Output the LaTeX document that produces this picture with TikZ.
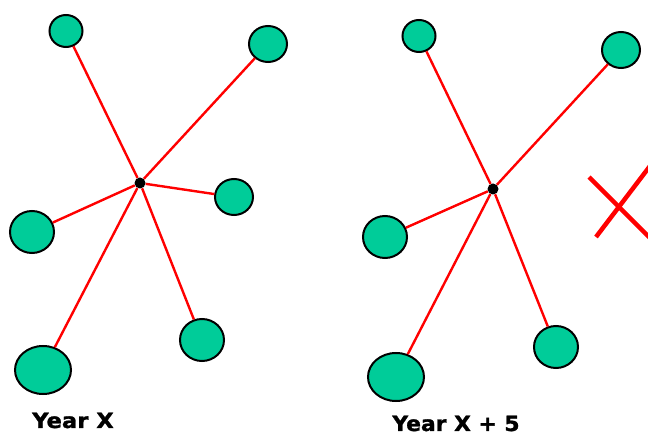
\documentclass[tikz,border=0pt]{standalone}
\usepackage{fontspec}
\usetikzlibrary{shapes.geometric}
\newfontfamily\yearfont{DejaVu Sans Bold}[FakeBold=1.2]
\definecolor{memgreen}{HTML}{00CC99}

\begin{document}
\begin{tikzpicture}
[x=1pt, y=-1pt, font=\yearfont\fontsize{21}{24}\selectfont]
\tikzstyle{member}=[ellipse, draw, line width=2pt, fill=memgreen, inner sep=0mm]
\tikzstyle{hub}=[circle, fill=black, inner sep=0mm, minimum size=11pt]
\tikzstyle{tie}=[draw=red, line width=2.4pt]
\tikzstyle{year}=[anchor=base, inner sep=0mm]
\useasboundingbox (0,0) rectangle (648,435);

% year X
\node[member, minimum width=33pt, minimum height=32pt] (A1) at (66,31)  {};
\node[member, minimum width=38pt, minimum height=36pt] (B1) at (268,44) {};
\node[member, minimum width=38pt, minimum height=36pt] (C1) at (234,197) {};
\node[member, minimum width=44pt, minimum height=42pt] (D1) at (32,232) {};
\node[member, minimum width=44pt, minimum height=42pt] (E1) at (202,340) {};
\node[member, minimum width=56pt, minimum height=48pt] (F1) at (43,370) {};
\node[hub] (H1) at (140,183) {};
\node[year, xscale=1.08] (Y1) at (73,428) {Year X};

\draw[tie] (H1) -- (A1);
\draw[tie] (H1) -- (B1);
\draw[tie] (H1) -- (C1);
\draw[tie] (H1) -- (D1);
\draw[tie] (H1) -- (E1);
\draw[tie] (H1) -- (F1);

% year X + 5
\node[member, minimum width=33pt, minimum height=32pt] (A2) at (419,36)  {};
\node[member, minimum width=38pt, minimum height=36pt] (B2) at (621,50) {};
\node[member, minimum width=44pt, minimum height=42pt] (D2) at (385,237) {};
\node[member, minimum width=44pt, minimum height=42pt] (E2) at (556,347) {};
\node[member, minimum width=56pt, minimum height=48pt] (F2) at (396,377) {};
\node[hub] (H2) at (493,189) {};
\node[year, xscale=1.04] (Y2) at (456,431) {Year X + 5};

\draw[tie] (H2) -- (A2);
\draw[tie] (H2) -- (B2);
\draw[tie] (H2) -- (D2);
\draw[tie] (H2) -- (E2);
\draw[tie] (H2) -- (F2);

% the member that left
\draw[red, line width=4.5pt] (589,177) -- (650,238);
\draw[red, line width=4.5pt] (596,237) -- (650,166);
\end{tikzpicture}
\end{document}
